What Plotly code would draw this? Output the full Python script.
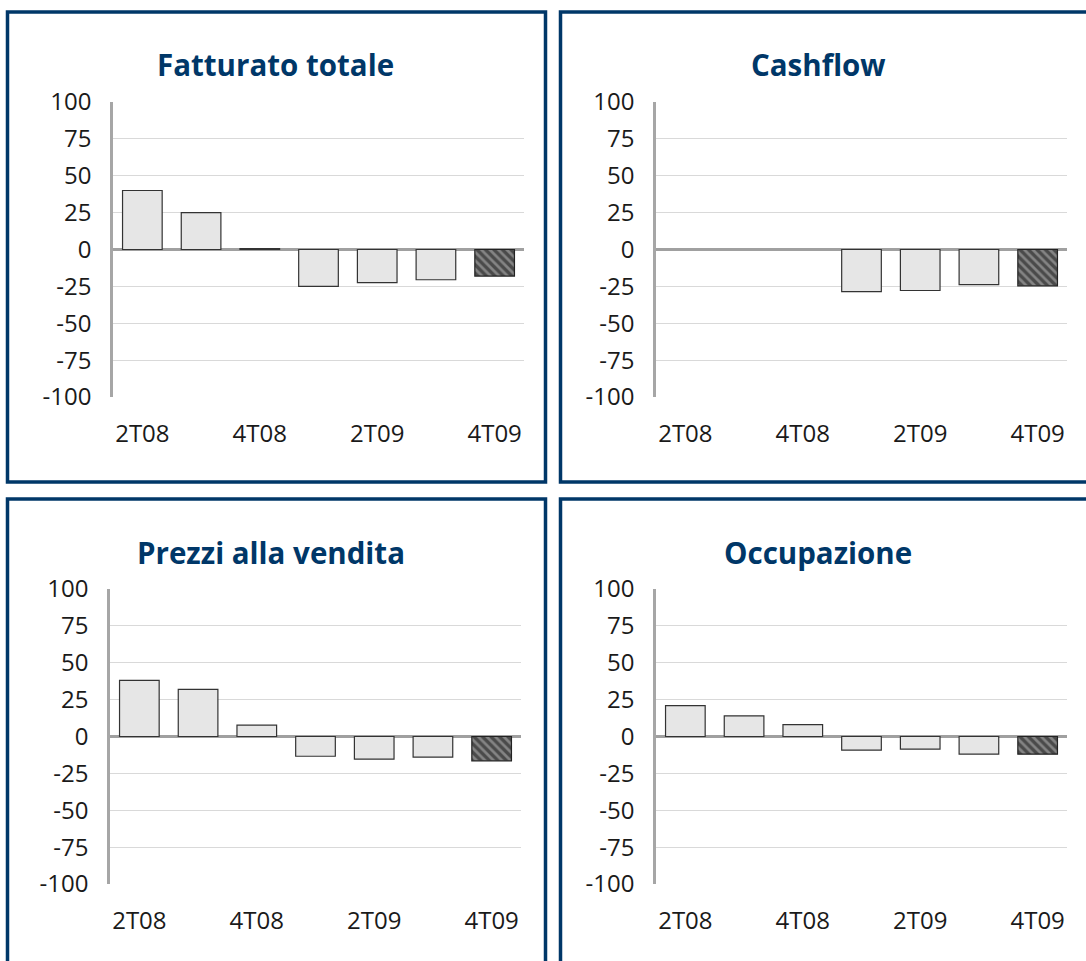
import plotly.graph_objects as go

categories = ["2T08", "3T08", "4T08", "1T09", "2T09", "3T09", "4T09"]
tick_labels = ["2T08", "4T08", "2T09", "4T09"]
y_ticks = [100, 75, 50, 25, 0, -25, -50, -75, -100]

titles = ["Fatturato totale", "Cashflow", "Prezzi alla vendita", "Occupazione"]
fatturato = [40, 25, 0.6, -25, -22.5, -20.5, -18]
cashflow = [0, 0, 0, -28.5, -27.8, -23.8, -24.6]
prezzi = [38, 32, 7.7, -13.4, -15.4, -14, -16.5]
occupazione = [21, 14, 8, -9.3, -8.6, -12, -12]
series = [fatturato, cashflow, prezzi, occupazione]

W, H = 1086, 961
BLUE = "#003768"

def px(x):
    return x / W

def py(y):
    return 1 - y / H

# plot areas in pixels (left, right, top, bottom)
areas = [(113, 524, 102, 397), (656, 1067, 102, 397),
         (110, 521, 589, 884), (656, 1067, 589, 884)]
title_pos = [(275, 65), (818, 65), (271, 552), (818, 552)]
borders = [(7.5, 545.5, 12, 482), (560.5, 1100, 12, 482),
           (7.5, 545.5, 499, 1000), (560.5, 1100, 499, 1000)]

fig = go.Figure()
layout = dict(width=W, height=H, margin=dict(l=0, r=0, t=0, b=0, autoexpand=False),
              paper_bgcolor="white", plot_bgcolor="white", showlegend=False,
              font=dict(family="Open Sans", color="#1a1a1a"))

shapes = []
annotations = []
for i, vals in enumerate(series):
    n = "" if i == 0 else str(i + 1)
    xa, ya = "x" + n, "y" + n
    n_hist = len(vals) - 1
    hist = vals[:n_hist]
    fig.add_trace(go.Bar(
        x=categories[:n_hist], y=hist, xaxis=xa, yaxis=ya,
        marker=dict(color="#e6e6e6",
                    line=dict(color="#333333", width=[0 if v == 0 else 1.2 for v in hist])),
        width=0.675, hoverinfo="x+y"))
    fig.add_trace(go.Bar(
        x=categories[n_hist:], y=vals[n_hist:], xaxis=xa, yaxis=ya,
        marker=dict(color="#4a4a4a", line=dict(color="#222222", width=1.2),
                    pattern=dict(shape="\\", fgcolor="#bdbdbd", bgcolor="#4a4a4a",
                                 size=6, solidity=0.45)),
        width=0.675, hoverinfo="x+y"))
    l, r, t, b = areas[i]
    layout["xaxis" + n] = dict(
        domain=[px(l), px(r)], anchor=ya, type="category",
        categoryorder="array", categoryarray=categories,
        range=[-0.5, len(categories) - 0.5], automargin=False,
        tickmode="array", tickvals=tick_labels, ticktext=tick_labels,
        showgrid=False, showline=False, zeroline=False, ticks="",
        tickfont=dict(size=24, color="#1a1a1a", family="Open Sans"),
        ticklabelstandoff=20, fixedrange=True)
    layout["yaxis" + n] = dict(
        domain=[py(b), py(t)], anchor=xa, range=[-100, 100], automargin=False,
        tickmode="array", tickvals=y_ticks, ticktext=[str(v) for v in y_ticks],
        showgrid=True, gridcolor="#d9d9d9", gridwidth=1,
        zeroline=True, zerolinecolor="#a0a0a0", zerolinewidth=2.5,
        showline=True, linecolor="#a6a6a6", linewidth=2.5, ticks="",
        tickfont=dict(size=24, color="#1a1a1a", family="Open Sans"),
        ticklabelstandoff=14, fixedrange=True)
    tx, ty = title_pos[i]
    annotations.append(dict(
        text="<b>" + titles[i] + "</b>", x=px(tx), y=py(ty), xref="paper", yref="paper",
        xanchor="center", yanchor="middle", showarrow=False,
        font=dict(size=29.5, color=BLUE, family="Open Sans")))
    bl, br, bt, bb = borders[i]
    shapes.append(dict(type="rect", xref="paper", yref="paper",
                       x0=px(bl), x1=px(br), y0=py(bb), y1=py(bt),
                       line=dict(color=BLUE, width=3.5), fillcolor="rgba(0,0,0,0)",
                       layer="above"))

layout["shapes"] = shapes
layout["annotations"] = annotations
layout["barmode"] = "overlay"
fig.update_layout(**layout)
fig.write_html("out.html", config={"displayModeBar": False},
               post_script="document.body.style.margin='0';document.body.style.overflow='hidden';")
